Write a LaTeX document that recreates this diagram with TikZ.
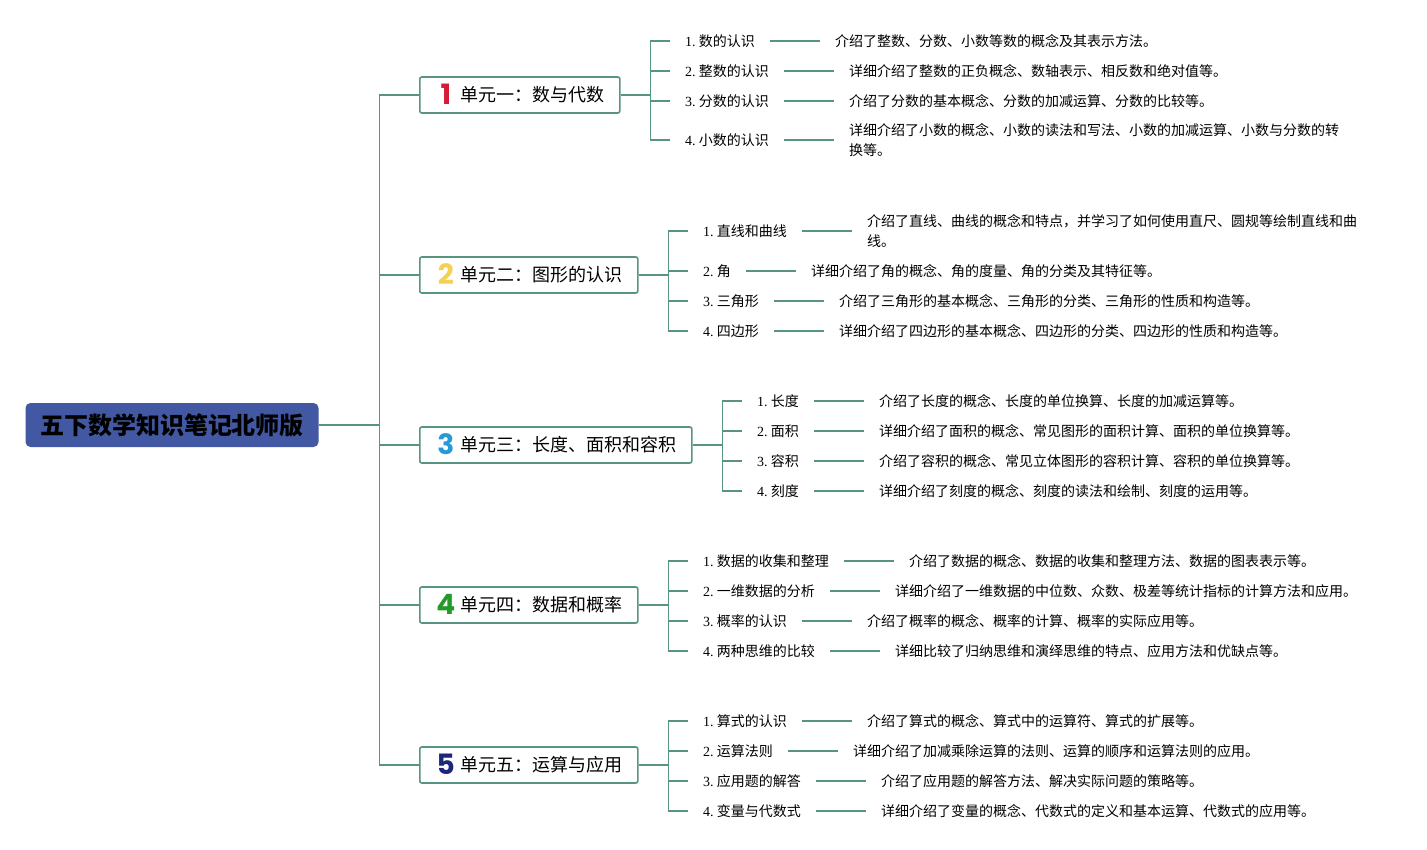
\documentclass[tikz,border=0pt]{standalone}
\usepackage{fontspec}
\setmainfont{Noto Sans CJK SC}
\newfontfamily\latfont{Liberation Serif}
\newfontfamily\numfont{Poppins}
\usetikzlibrary{positioning}
\definecolor{branch}{RGB}{88,148,132}
\definecolor{rootblue}{RGB}{66,88,162}
\definecolor{numred}{RGB}{214,28,52}
\definecolor{numyellow}{RGB}{244,208,84}
\definecolor{numblue}{RGB}{38,154,214}
\definecolor{numgreen}{RGB}{36,154,44}
\definecolor{numnavy}{RGB}{28,38,122}
\newcommand{\unitnum}[2]{\hspace{2pt}\makebox[18pt][c]{\smash{\raisebox{-3pt}{\numfont\bfseries\fontsize{28}{28}\selectfont\color{#1}#2}}}\hspace{6pt}}
\newcommand{\itm}[2]{{\latfont #1.}~#2}
\tikzset{
  root/.style={fill=rootblue, rounded corners=5pt, minimum width=293pt, minimum height=44pt,
    font=\bfseries\fontsize{24}{28}\selectfont},
  unitbox/.style={draw=branch, line width=1.6pt, fill=white, rounded corners=2pt, anchor=west,
    minimum height=36pt, inner xsep=15pt, font=\fontsize{18}{22}\selectfont},
  item/.style={anchor=west, inner xsep=15pt, inner ysep=2pt},
  note/.style={inner xsep=15pt, inner ysep=2pt, align=left},
  link/.style={draw=branch, line width=1.5pt}
}

\begin{document}
\begin{tikzpicture}[x=1pt,y=-1pt,font=\fontsize{14}{20}\selectfont]
  \useasboundingbox (0,0) rectangle (1427,850);
  \node[root] (root) at (172,425) {五下数学知识笔记北师版};

  \node[unitbox] (u1) at (419,95) {\unitnum{numred}{1}单元一：数与代数};
  \node[unitbox] (u2) at (419,275) {\unitnum{numyellow}{2}单元二：图形的认识};
  \node[unitbox] (u3) at (419,445) {\unitnum{numblue}{3}单元三：长度、面积和容积};
  \node[unitbox] (u4) at (419,605) {\unitnum{numgreen}{4}单元四：数据和概率};
  \node[unitbox] (u5) at (419,765) {\unitnum{numnavy}{5}单元五：运算与应用};

  \node[item] (c11) at (670,41) {\itm{1}{数的认识}};
  \node[item] (c12) at (670,71) {\itm{2}{整数的认识}};
  \node[item] (c13) at (670,101) {\itm{3}{分数的认识}};
  \node[item] (c14) at (670,140) {\itm{4}{小数的认识}};
  \node[note, right=50pt of c11] (d11) {介绍了整数、分数、小数等数的概念及其表示方法。};
  \node[note, right=50pt of c12] (d12) {详细介绍了整数的正负概念、数轴表示、相反数和绝对值等。};
  \node[note, right=50pt of c13] (d13) {介绍了分数的基本概念、分数的加减运算、分数的比较等。};
  \node[note, right=50pt of c14] (d14) {详细介绍了小数的概念、小数的读法和写法、小数的加减运算、小数与分数的转\\换等。};

  \node[item] (c21) at (688,231) {\itm{1}{直线和曲线}};
  \node[item] (c22) at (688,271) {\itm{2}{角}};
  \node[item] (c23) at (688,301) {\itm{3}{三角形}};
  \node[item] (c24) at (688,331) {\itm{4}{四边形}};
  \node[note, right=50pt of c21] (d21) {介绍了直线、曲线的概念和特点，并学习了如何使用直尺、圆规等绘制直线和曲\\线。};
  \node[note, right=50pt of c22] (d22) {详细介绍了角的概念、角的度量、角的分类及其特征等。};
  \node[note, right=50pt of c23] (d23) {介绍了三角形的基本概念、三角形的分类、三角形的性质和构造等。};
  \node[note, right=50pt of c24] (d24) {详细介绍了四边形的基本概念、四边形的分类、四边形的性质和构造等。};

  \node[item] (c31) at (742,401) {\itm{1}{长度}};
  \node[item] (c32) at (742,431) {\itm{2}{面积}};
  \node[item] (c33) at (742,461) {\itm{3}{容积}};
  \node[item] (c34) at (742,491) {\itm{4}{刻度}};
  \node[note, right=50pt of c31] (d31) {介绍了长度的概念、长度的单位换算、长度的加减运算等。};
  \node[note, right=50pt of c32] (d32) {详细介绍了面积的概念、常见图形的面积计算、面积的单位换算等。};
  \node[note, right=50pt of c33] (d33) {介绍了容积的概念、常见立体图形的容积计算、容积的单位换算等。};
  \node[note, right=50pt of c34] (d34) {详细介绍了刻度的概念、刻度的读法和绘制、刻度的运用等。};

  \node[item] (c41) at (688,561) {\itm{1}{数据的收集和整理}};
  \node[item] (c42) at (688,591) {\itm{2}{一维数据的分析}};
  \node[item] (c43) at (688,621) {\itm{3}{概率的认识}};
  \node[item] (c44) at (688,651) {\itm{4}{两种思维的比较}};
  \node[note, right=50pt of c41] (d41) {介绍了数据的概念、数据的收集和整理方法、数据的图表表示等。};
  \node[note, right=50pt of c42] (d42) {详细介绍了一维数据的中位数、众数、极差等统计指标的计算方法和应用。};
  \node[note, right=50pt of c43] (d43) {介绍了概率的概念、概率的计算、概率的实际应用等。};
  \node[note, right=50pt of c44] (d44) {详细比较了归纳思维和演绎思维的特点、应用方法和优缺点等。};

  \node[item] (c51) at (688,721) {\itm{1}{算式的认识}};
  \node[item] (c52) at (688,751) {\itm{2}{运算法则}};
  \node[item] (c53) at (688,781) {\itm{3}{应用题的解答}};
  \node[item] (c54) at (688,811) {\itm{4}{变量与代数式}};
  \node[note, right=50pt of c51] (d51) {介绍了算式的概念、算式中的运算符、算式的扩展等。};
  \node[note, right=50pt of c52] (d52) {详细介绍了加减乘除运算的法则、运算的顺序和运算法则的应用。};
  \node[note, right=50pt of c53] (d53) {介绍了应用题的解答方法、解决实际问题的策略等。};
  \node[note, right=50pt of c54] (d54) {详细介绍了变量的概念、代数式的定义和基本运算、代数式的应用等。};

  % trunk
  \draw[link] (root.east) -- ++(61,0) |- (u1.west);
  \draw[link] (root.east) -- ++(61,0) |- (u2.west);
  \draw[link] (root.east) -- ++(61,0) |- (u3.west);
  \draw[link] (root.east) -- ++(61,0) |- (u4.west);
  \draw[link] (root.east) -- ++(61,0) |- (u5.west);

  \draw[link] (u1.east) -- ++(30,0) |- (c11.west);
  \draw[link] (u1.east) -- ++(30,0) |- (c12.west);
  \draw[link] (u1.east) -- ++(30,0) |- (c13.west);
  \draw[link] (u1.east) -- ++(30,0) |- (c14.west);
  \draw[link] (u2.east) -- ++(30,0) |- (c21.west);
  \draw[link] (u2.east) -- ++(30,0) |- (c22.west);
  \draw[link] (u2.east) -- ++(30,0) |- (c23.west);
  \draw[link] (u2.east) -- ++(30,0) |- (c24.west);
  \draw[link] (u3.east) -- ++(30,0) |- (c31.west);
  \draw[link] (u3.east) -- ++(30,0) |- (c32.west);
  \draw[link] (u3.east) -- ++(30,0) |- (c33.west);
  \draw[link] (u3.east) -- ++(30,0) |- (c34.west);
  \draw[link] (u4.east) -- ++(30,0) |- (c41.west);
  \draw[link] (u4.east) -- ++(30,0) |- (c42.west);
  \draw[link] (u4.east) -- ++(30,0) |- (c43.west);
  \draw[link] (u4.east) -- ++(30,0) |- (c44.west);
  \draw[link] (u5.east) -- ++(30,0) |- (c51.west);
  \draw[link] (u5.east) -- ++(30,0) |- (c52.west);
  \draw[link] (u5.east) -- ++(30,0) |- (c53.west);
  \draw[link] (u5.east) -- ++(30,0) |- (c54.west);

  % details
  \draw[link] (c11) -- (d11);
  \draw[link] (c12) -- (d12);
  \draw[link] (c13) -- (d13);
  \draw[link] (c14) -- (d14);
  \draw[link] (c21) -- (d21);
  \draw[link] (c22) -- (d22);
  \draw[link] (c23) -- (d23);
  \draw[link] (c24) -- (d24);
  \draw[link] (c31) -- (d31);
  \draw[link] (c32) -- (d32);
  \draw[link] (c33) -- (d33);
  \draw[link] (c34) -- (d34);
  \draw[link] (c41) -- (d41);
  \draw[link] (c42) -- (d42);
  \draw[link] (c43) -- (d43);
  \draw[link] (c44) -- (d44);
  \draw[link] (c51) -- (d51);
  \draw[link] (c52) -- (d52);
  \draw[link] (c53) -- (d53);
  \draw[link] (c54) -- (d54);
\end{tikzpicture}
\end{document}
